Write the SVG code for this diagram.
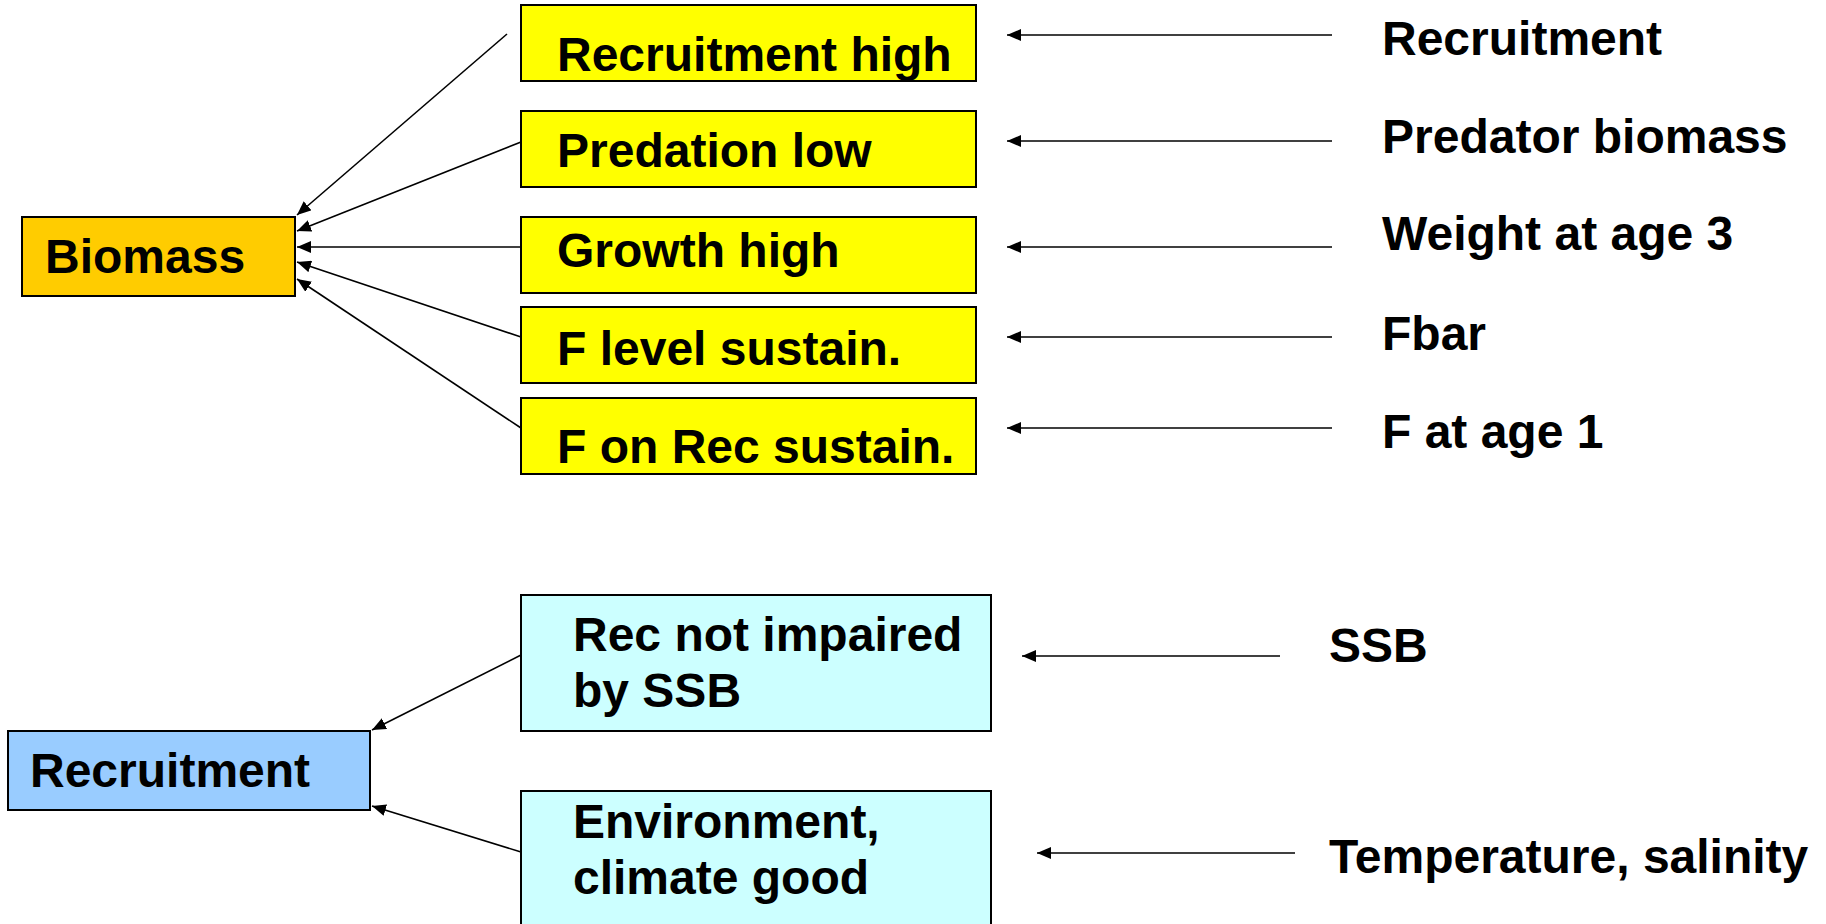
<svg xmlns="http://www.w3.org/2000/svg" width="1826" height="924" viewBox="0 0 1826 924">
<style>
  .box{stroke:#000;stroke-width:2}
  .y{fill:#FFFF00}
  .o{fill:#FFCC00}
  .c{fill:#CCFFFF}
  .b{fill:#99CCFF}
  text{font-family:"Liberation Sans",Arial,sans-serif;font-weight:bold;font-size:48px;fill:#000}
  .ln{stroke:#000;stroke-width:1.6;fill:none;marker-end:url(#ah)}
</style>
<defs>
  <marker id="ah" markerUnits="userSpaceOnUse" markerWidth="14" markerHeight="12" refX="14" refY="6" orient="auto">
    <path d="M0,0 L14,6 L0,12 z" fill="#000"/>
  </marker>
</defs>
<rect width="1826" height="924" fill="#fff"/>

<g id="connectors">
  <line class="ln" x1="507" y1="34" x2="297" y2="215"/>
  <line class="ln" x1="521" y1="142" x2="297" y2="231"/>
  <line class="ln" x1="521" y1="247" x2="297" y2="247"/>
  <line class="ln" x1="521" y1="337" x2="297" y2="262"/>
  <line class="ln" x1="521" y1="428" x2="297" y2="279"/>
  <line class="ln" x1="1332" y1="35" x2="1007" y2="35"/>
  <line class="ln" x1="1332" y1="141" x2="1007" y2="141"/>
  <line class="ln" x1="1332" y1="247" x2="1007" y2="247"/>
  <line class="ln" x1="1332" y1="337" x2="1007" y2="337"/>
  <line class="ln" x1="1332" y1="428" x2="1007" y2="428"/>
  <line class="ln" x1="521" y1="655" x2="372" y2="730"/>
  <line class="ln" x1="521" y1="852" x2="372" y2="806"/>
  <line class="ln" x1="1280" y1="656" x2="1022" y2="656"/>
  <line class="ln" x1="1295" y1="853" x2="1037" y2="853"/>
</g>

<g id="biomass">
  <rect class="box o" x="22" y="217" width="273" height="79"/>
  <text x="45" y="273">Biomass</text>
</g>
<g id="recruitment-high">
  <rect class="box y" x="521" y="5" width="455" height="76"/>
  <text x="557" y="71">Recruitment high</text>
</g>
<g id="predation-low">
  <rect class="box y" x="521" y="111" width="455" height="76"/>
  <text x="557" y="167">Predation low</text>
</g>
<g id="growth-high">
  <rect class="box y" x="521" y="217" width="455" height="76"/>
  <text x="557" y="267">Growth high</text>
</g>
<g id="f-level">
  <rect class="box y" x="521" y="307" width="455" height="76"/>
  <text x="557" y="365">F level sustain.</text>
</g>
<g id="f-on-rec">
  <rect class="box y" x="521" y="398" width="455" height="76"/>
  <text x="557" y="463">F on Rec sustain.</text>
</g>

<g id="lbl-recruitment"><text x="1382" y="55">Recruitment</text></g>
<g id="lbl-predator"><text x="1382" y="153">Predator biomass</text></g>
<g id="lbl-weight"><text x="1382" y="250">Weight at age 3</text></g>
<g id="lbl-fbar"><text x="1382" y="350">Fbar</text></g>
<g id="lbl-fage1"><text x="1382" y="448">F at age 1</text></g>

<g id="recruitment">
  <rect class="box b" x="8" y="731" width="362" height="79"/>
  <text x="30" y="787">Recruitment</text>
</g>
<g id="rec-not-impaired">
  <rect class="box c" x="521" y="595" width="470" height="136"/>
  <text x="573" y="651">Rec not impaired</text>
  <text x="573" y="707">by SSB</text>
</g>
<g id="environment">
  <rect class="box c" x="521" y="791" width="470" height="150"/>
  <text x="573" y="838">Environment,</text>
  <text x="573" y="894">climate good</text>
</g>

<g id="lbl-ssb"><text x="1329" y="662">SSB</text></g>
<g id="lbl-temp"><text x="1329" y="873">Temperature, salinity</text></g>
</svg>
